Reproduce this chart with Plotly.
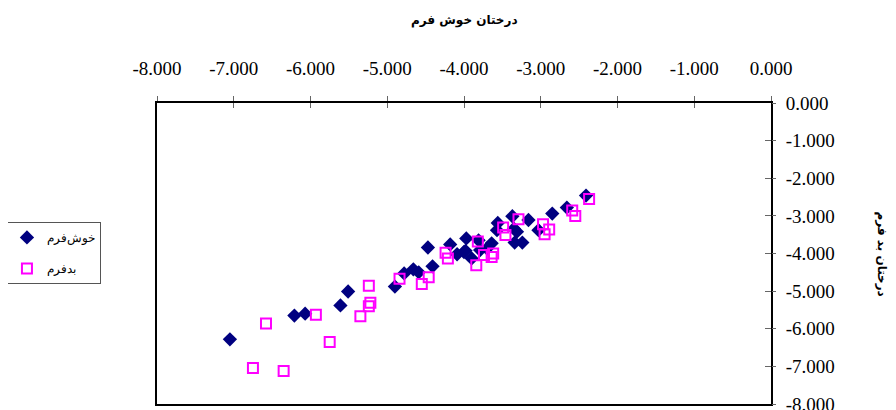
import plotly.graph_objects as go

good_x = [-7.05, -6.21, -6.07, -5.61, -5.51, -4.90, -4.78, -4.66, -4.59, -4.41, -4.47,
          -4.18, -3.97, -4.09, -4.00, -3.90, -2.41, -2.66, -2.85, -3.16, -3.37, -3.31,
          -3.35, -3.24, -3.34, -3.56, -3.57, -3.03, -3.64, -3.81, -3.98, -3.79, -3.70]
good_y = [-6.28, -5.65, -5.60, -5.38, -5.01, -4.88, -4.53, -4.42, -4.50, -4.34, -3.84,
          -3.76, -3.60, -4.02, -3.96, -4.13, -2.46, -2.78, -2.94, -3.11, -3.01, -3.42,
          -3.34, -3.71, -3.71, -3.19, -3.38, -3.38, -3.73, -3.65, -3.93, -3.91, -3.87]

bad_x = [-6.58, -6.75, -6.35, -5.93, -5.75, -5.35, -5.24, -5.22, -5.24, -4.84, -4.55,
         -4.46, -4.24, -4.21, -2.37, -2.59, -2.55, -3.29, -2.97, -2.89, -2.95, -3.49,
         -3.46, -3.82, -3.62, -3.64, -3.74, -3.84]
bad_y = [-5.86, -7.04, -7.12, -5.63, -6.35, -5.67, -5.40, -5.31, -4.86, -4.67, -4.81,
         -4.63, -3.98, -4.13, -2.55, -2.86, -3.00, -3.09, -3.22, -3.36, -3.49, -3.31,
         -3.51, -3.68, -4.00, -4.09, -4.04, -4.31]

tick_vals = [-8, -7, -6, -5, -4, -3, -2, -1, 0]
tick_text = ["-8.000", "-7.000", "-6.000", "-5.000", "-4.000", "-3.000", "-2.000", "-1.000", "0.000"]

name_good = "خوش‌فرم"
name_bad = "بدفرم"
title_x = "درختان خوش فرم"
title_y = "درختان بد فرم"

fig = go.Figure()
fig.add_trace(go.Scatter(
    x=good_x, y=good_y, mode="markers", name=name_good, legendgroup="g1",
    marker=dict(symbol="diamond", size=11, color="#000080", line=dict(width=0)),
))
fig.add_trace(go.Scatter(
    x=bad_x, y=bad_y, mode="markers", name=name_bad, legendgroup="g2",
    marker=dict(symbol="square-open", size=10, color="#FF00FF", line=dict(width=2, color="#FF00FF")),
))
# invisible trace on secondary axes (to make crossing ticks)
fig.add_trace(go.Scatter(x=[-8, 0], y=[0, -8], xaxis="x2", yaxis="y2", mode="markers",
                         marker=dict(opacity=0), showlegend=False, hoverinfo="skip"))

tick_font = dict(family="Liberation Serif", size=19, color="black")

fig.update_layout(
    width=888, height=402,
    margin=dict(l=149, r=125, t=95, b=6, autoexpand=False),
    paper_bgcolor="white", plot_bgcolor="white",
    showlegend=True,
    legend=dict(
        x=-0.246, y=0.605, xanchor="left", yanchor="top",
        bordercolor="#555555", borderwidth=1, bgcolor="white",
        font=dict(family="Liberation Sans", size=12, color="black"),
        tracegroupgap=12, traceorder="grouped", itemwidth=30,
    ),
    xaxis=dict(
        side="top", range=[-8, 0], tickvals=tick_vals, ticktext=tick_text,
        ticks="outside", ticklen=5, tickcolor="#666666", tickwidth=1,
        showgrid=False, zeroline=False, showline=True, linecolor="black", linewidth=2,
        mirror=True, tickfont=tick_font, ticklabelstandoff=13, automargin=False,
        ticklabeloverflow="allow",
    ),
    xaxis2=dict(
        overlaying="x", side="top", range=[-8, 0], tickvals=tick_vals,
        ticks="inside", ticklen=5, tickcolor="#666666", tickwidth=1,
        showticklabels=False, showgrid=False, zeroline=False, showline=False,
        automargin=False,
    ),
    yaxis=dict(
        side="right", range=[-8, 0], tickvals=tick_vals, ticktext=tick_text,
        ticks="inside", ticklen=6, tickcolor="#666666", tickwidth=1,
        showgrid=False, zeroline=False, showline=True, linecolor="black", linewidth=2,
        mirror=True, tickfont=tick_font, ticklabelstandoff=9, automargin=False,
        ticklabeloverflow="allow",
    ),
    yaxis2=dict(
        overlaying="y", side="right", range=[-8, 0], tickvals=tick_vals,
        ticks="outside", ticklen=4, tickcolor="#666666", tickwidth=1,
        showticklabels=False, showgrid=False, zeroline=False, showline=False,
        automargin=False,
    ),
    annotations=[
        dict(text="<b>" + title_x + "</b>", xref="paper", yref="paper",
             x=0.5, y=1.0, yshift=83, xanchor="center", yanchor="middle", showarrow=False,
             font=dict(family="DejaVu Sans", size=12, color="black")),
        dict(text="<b>" + title_y + "</b>", xref="paper", yref="paper",
             x=1.0, xshift=110, y=0.5, xanchor="center", yanchor="middle", showarrow=False,
             textangle=90,
             font=dict(family="DejaVu Sans", size=12, color="black")),
    ],
)

fig.write_html("out.html")
